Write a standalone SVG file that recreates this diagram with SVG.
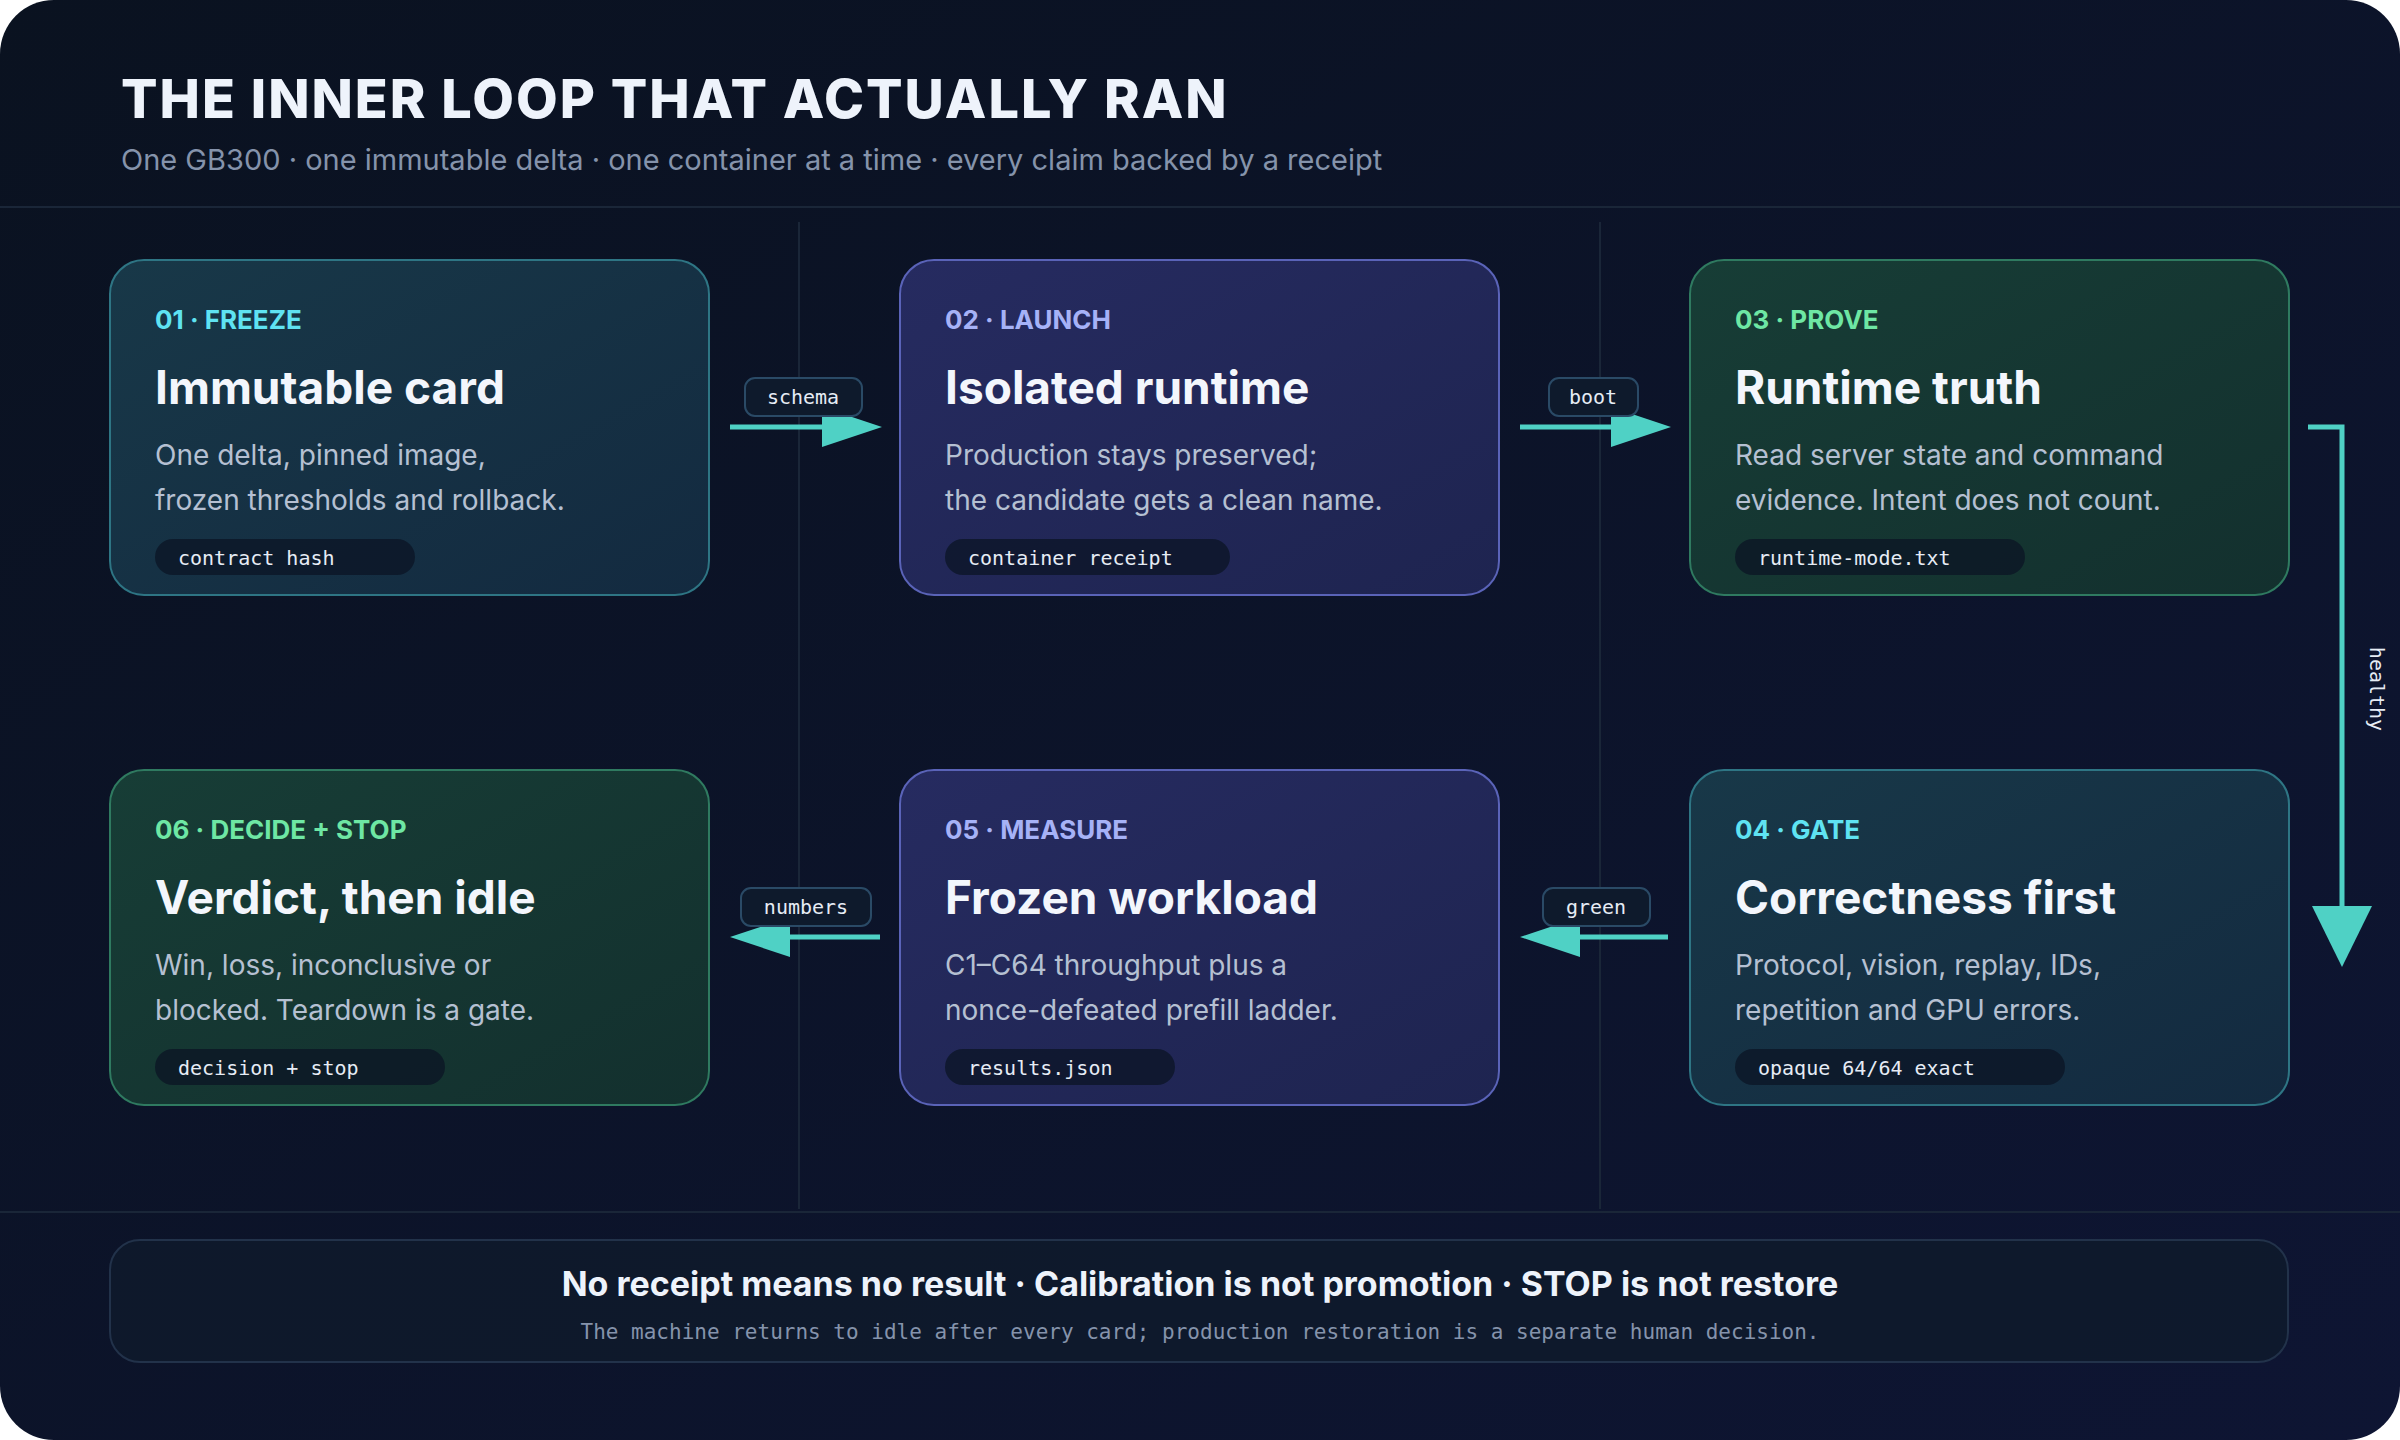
<svg xmlns="http://www.w3.org/2000/svg" width="2400" height="1440" viewBox="0 0 2400 1440">
<defs>
<linearGradient id="bg" x1="0" y1="0" x2="1" y2="1"><stop offset="0" stop-color="#0a1220"/><stop offset="1" stop-color="#0e1533"/></linearGradient>
<linearGradient id="gT" x1="0" y1="0" x2="1" y2="1"><stop offset="0" stop-color="#183848"/><stop offset="1" stop-color="#132a40"/></linearGradient>
<linearGradient id="gI" x1="0" y1="0" x2="1" y2="1"><stop offset="0" stop-color="#262b60"/><stop offset="1" stop-color="#1e2450"/></linearGradient>
<linearGradient id="gG" x1="0" y1="0" x2="1" y2="1"><stop offset="0" stop-color="#173d36"/><stop offset="1" stop-color="#13302e"/></linearGradient>
<marker id="ah" viewBox="0 0 10 10" refX="10" refY="5" markerWidth="10" markerHeight="10" markerUnits="userSpaceOnUse"><path d="M0,0L10,5L0,10z" fill="#4fd1c5"/></marker>
<style>
.ttl{font-family:Inter,"Liberation Sans",sans-serif;font-weight:800;font-size:54px;fill:#eef3fb;letter-spacing:2px}
.sub{font-family:Inter,"Liberation Sans",sans-serif;font-size:29px;fill:#8593ab}
.lab{font-family:Inter,"Liberation Sans",sans-serif;font-weight:700;font-size:26px}
.hd{font-family:Inter,"Liberation Sans",sans-serif;font-weight:700;font-size:46px;fill:#f3f6fc}
.bd{font-family:Inter,"Liberation Sans",sans-serif;font-size:28px;fill:#b5c0d2}
.pill{fill:#0b1424;fill-opacity:0.75}
.mono{font-family:"DejaVu Sans Mono","Liberation Mono",monospace;font-size:20px;fill:#e6ecf5}
.cl{fill:#0e1a2c;stroke:#2a4a66;stroke-width:2}
.cn{stroke:#4fd1c5;stroke-width:5;fill:none}
.ct{font-family:"DejaVu Sans Mono","Liberation Mono",monospace;font-size:20px;fill:#e6ecf5;text-anchor:middle}
</style>
</defs>
<rect width="2400" height="1440" fill="#ffffff"/>
<rect width="2400" height="1440" rx="54" fill="url(#bg)"/>
<text class="ttl" x="121" y="118">THE INNER LOOP THAT ACTUALLY RAN</text>
<text class="sub" x="121" y="170">One GB300 · one immutable delta · one container at a time · every claim backed by a receipt</text>
<g stroke="#1a2638" stroke-width="2">
<line x1="0" y1="207" x2="2400" y2="207"/>
<line x1="0" y1="1212" x2="2400" y2="1212"/>
<line x1="799" y1="222" x2="799" y2="1209"/>
<line x1="1600" y1="222" x2="1600" y2="1209"/>
</g>
<g id="n1"><rect x="110" y="260" width="599" height="335" rx="34" fill="url(#gT)" stroke="#2e7584" stroke-width="2"/>
<text class="lab" x="155" y="329" fill="#5fe3f2">01 · FREEZE</text><text class="hd" x="155" y="404">Immutable card</text>
<text class="bd" x="155" y="465">One delta, pinned image,</text><text class="bd" x="155" y="510">frozen thresholds and rollback.</text>
<rect class="pill" x="155" y="539" width="260" height="36" rx="18"/><text class="mono" x="178" y="565">contract hash</text></g>
<g id="n2"><rect x="900" y="260" width="599" height="335" rx="34" fill="url(#gI)" stroke="#5a63b8" stroke-width="2"/>
<text class="lab" x="945" y="329" fill="#a6b2f7">02 · LAUNCH</text><text class="hd" x="945" y="404">Isolated runtime</text>
<text class="bd" x="945" y="465">Production stays preserved;</text><text class="bd" x="945" y="510">the candidate gets a clean name.</text>
<rect class="pill" x="945" y="539" width="285" height="36" rx="18"/><text class="mono" x="968" y="565">container receipt</text></g>
<g id="n3"><rect x="1690" y="260" width="599" height="335" rx="34" fill="url(#gG)" stroke="#2f7a60" stroke-width="2"/>
<text class="lab" x="1735" y="329" fill="#6ee7a4">03 · PROVE</text><text class="hd" x="1735" y="404">Runtime truth</text>
<text class="bd" x="1735" y="465">Read server state and command</text><text class="bd" x="1735" y="510">evidence. Intent does not count.</text>
<rect class="pill" x="1735" y="539" width="290" height="36" rx="18"/><text class="mono" x="1758" y="565">runtime-mode.txt</text></g>
<g id="n4"><rect x="1690" y="770" width="599" height="335" rx="34" fill="url(#gT)" stroke="#2e7584" stroke-width="2"/>
<text class="lab" x="1735" y="839" fill="#5fe3f2">04 · GATE</text><text class="hd" x="1735" y="914">Correctness first</text>
<text class="bd" x="1735" y="975">Protocol, vision, replay, IDs,</text><text class="bd" x="1735" y="1020">repetition and GPU errors.</text>
<rect class="pill" x="1735" y="1049" width="330" height="36" rx="18"/><text class="mono" x="1758" y="1075">opaque 64/64 exact</text></g>
<g id="n5"><rect x="900" y="770" width="599" height="335" rx="34" fill="url(#gI)" stroke="#5a63b8" stroke-width="2"/>
<text class="lab" x="945" y="839" fill="#a6b2f7">05 · MEASURE</text><text class="hd" x="945" y="914">Frozen workload</text>
<text class="bd" x="945" y="975">C1–C64 throughput plus a</text><text class="bd" x="945" y="1020">nonce-defeated prefill ladder.</text>
<rect class="pill" x="945" y="1049" width="230" height="36" rx="18"/><text class="mono" x="968" y="1075">results.json</text></g>
<g id="n6"><rect x="110" y="770" width="599" height="335" rx="34" fill="url(#gG)" stroke="#2f7a60" stroke-width="2"/>
<text class="lab" x="155" y="839" fill="#6ee7a4">06 · DECIDE + STOP</text><text class="hd" x="155" y="914">Verdict, then idle</text>
<text class="bd" x="155" y="975">Win, loss, inconclusive or</text><text class="bd" x="155" y="1020">blocked. Teardown is a gate.</text>
<rect class="pill" x="155" y="1049" width="290" height="36" rx="18"/><text class="mono" x="178" y="1075">decision + stop</text></g>
<g id="connectors">
<line class="cn" x1="730" y1="427" x2="830" y2="427"/><path d="M822,407L882,427L822,447z" fill="#4fd1c5"/>
<rect class="cl" x="745" y="378" width="117" height="38" rx="10"/><text class="ct" x="803" y="404">schema</text>
<line class="cn" x1="1520" y1="427" x2="1620" y2="427"/><path d="M1611,407L1671,427L1611,447z" fill="#4fd1c5"/>
<rect class="cl" x="1549" y="378" width="89" height="38" rx="10"/><text class="ct" x="1593" y="404">boot</text>
<polyline class="cn" points="2308,427 2342,427 2342,920"/><path d="M2312,906L2372,906L2342,967z" fill="#4fd1c5"/>
<text class="ct" transform="translate(2370,689) rotate(90)" y="0">healthy</text>
<line class="cn" x1="1668" y1="937" x2="1570" y2="937"/><path d="M1580,917L1520,937L1580,957z" fill="#4fd1c5"/>
<rect class="cl" x="1543" y="888" width="107" height="38" rx="10"/><text class="ct" x="1596" y="914">green</text>
<line class="cn" x1="880" y1="937" x2="780" y2="937"/><path d="M790,917L730,937L790,957z" fill="#4fd1c5"/>
<rect class="cl" x="741" y="888" width="130" height="38" rx="10"/><text class="ct" x="806" y="914">numbers</text>
</g>
<g id="footer"><rect x="110" y="1240" width="2178" height="122" rx="30" fill="#0f1a2c" fill-opacity="0.8" stroke="#22324a" stroke-width="2"/>
<text x="1200" y="1296" text-anchor="middle" font-family="Inter,'Liberation Sans',sans-serif" font-weight="700" font-size="34" fill="#eef3fb">No receipt means no result · Calibration is not promotion · STOP is not restore</text>
<text x="1200" y="1339" text-anchor="middle" font-family="'DejaVu Sans Mono','Liberation Mono',monospace" font-size="21" fill="#8593ab">The machine returns to idle after every card; production restoration is a separate human decision.</text></g>
</svg>
